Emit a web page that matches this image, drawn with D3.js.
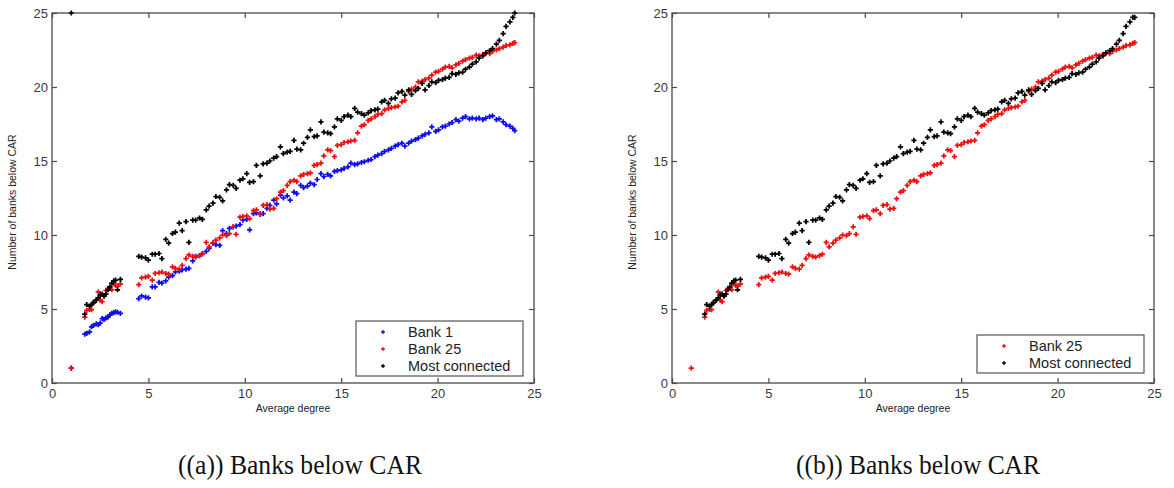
<!DOCTYPE html>
<html><head><meta charset="utf-8">
<script src="https://cdn.jsdelivr.net/npm/d3@7"></script>
<style>
html,body{margin:0;padding:0;background:#fff;}
svg{display:block;}
</style></head>
<body>
<svg id="chart" width="1174" height="488"></svg>
<script>
// ---------------- DATA ----------------
const degree = [
  1.0,
  1.7, 1.8, 1.95, 2.05, 2.15, 2.3, 2.4, 2.5, 2.6, 2.7, 2.8, 2.9, 3.0, 3.1, 3.2, 3.3, 3.4, 3.55,
  4.5, 4.65, 4.85, 5.0, 5.2, 5.35, 5.55, 5.7, 5.9, 6.05,
  6.25, 6.4, 6.6, 6.75, 6.95, 7.1, 7.3, 7.45, 7.65, 7.8,
  8.0, 8.15, 8.35, 8.5, 8.7, 8.85, 9.05, 9.2, 9.4, 9.55,
  9.75, 9.9, 10.1, 10.25, 10.45, 10.6, 10.8, 10.95, 11.15, 11.3,
  11.5, 11.65, 11.85, 12.0, 12.2, 12.35, 12.55, 12.7, 12.9, 13.05,
  13.25, 13.4, 13.6, 13.75, 13.95, 14.1, 14.3, 14.45, 14.65, 14.8,
  15.0, 15.15, 15.35, 15.5, 15.7, 15.85, 16.05, 16.2, 16.4, 16.55,
  16.75, 16.9, 17.1, 17.25, 17.45, 17.6, 17.8, 17.95, 18.15, 18.3,
  18.5, 18.65, 18.85, 19.0, 19.2, 19.35, 19.55, 19.7, 19.9, 20.05,
  20.25, 20.4, 20.6, 20.75, 20.95, 21.1, 21.3, 21.45, 21.65, 21.8,
  22.0, 22.15, 22.35, 22.5, 22.7, 22.85, 23.05, 23.2, 23.4, 23.55,
  23.75, 23.9, 24.0
];
const bank1 = [
  1.0,
  3.3, 3.35, 3.45, 3.8, 3.9, 4.0, 3.95, 4.05, 4.35, 4.3, 4.4, 4.45, 4.6, 4.7, 4.75, 4.8, 4.78, 4.7,
  5.7, 5.88, 5.8, 5.75, 6.5, 6.5, 6.8, 6.75, 6.9, 7.15,
  7.25, 7.5, 7.55, 7.65, 7.7, 7.75, 8.25, 8.55, 8.6, 8.75,
  8.9, 9.1, 9.45, 9.35, 9.3, 10.3, 10.1, 10.45, 10.55, 10.6,
  10.7, 11.0, 11.05, 10.35, 11.45, 11.5, 11.4, 11.45, 11.8, 12.0,
  12.35, 12.1, 12.7, 12.5, 12.65, 12.35, 12.9, 12.8, 13.35, 13.2,
  13.3, 13.5, 13.4, 13.75, 14.15, 13.95, 14.1, 14.0, 14.3, 14.35,
  14.4, 14.5, 14.6, 14.85, 14.75, 14.8, 14.9, 14.95, 15.05, 15.1,
  15.3, 15.4, 15.5, 15.65, 15.75, 15.85, 16.0, 16.1, 16.2, 16.0,
  16.2, 16.35, 16.45, 16.55, 16.7, 16.8, 16.9, 17.3, 17.0, 17.1,
  17.3, 17.35, 17.5, 17.6, 17.8, 17.7, 17.9, 18.0, 17.85, 17.9,
  17.85, 17.9, 17.8, 17.9, 18.0, 18.05, 17.8, 17.85, 17.65, 17.45,
  17.35, 17.2, 17.05
];
const bank25 = [
  1.0,
  4.45, 4.9, 4.98, 4.95, 5.4, 5.6, 6.15, 5.6, 5.5, 5.85, 6.25, 6.4, 6.45, 6.3, 6.7, 6.6, 6.55, 6.7,
  6.65, 7.1, 7.15, 7.2, 6.95, 7.4, 7.45, 7.5, 7.4, 7.35,
  7.85, 7.75, 7.7, 7.95, 8.4, 8.65, 8.55, 8.5, 8.6, 8.7,
  9.5, 9.2, 9.45, 9.65, 9.8, 10.0, 9.95, 10.1, 10.55, 10.05,
  11.2, 11.25, 11.3, 11.1, 11.65, 11.7, 11.45, 12.0, 12.05, 11.75,
  11.8, 12.45, 12.9, 13.0, 13.35, 13.6, 13.7, 13.6, 14.0, 14.1,
  14.15, 14.2, 14.7, 14.75, 14.85, 15.35, 15.75, 15.7, 15.3, 16.05,
  16.1, 16.25, 16.3, 16.35, 16.4, 16.9, 17.35, 17.45, 17.75, 17.85,
  18.0, 18.15, 18.2, 18.45, 18.55, 18.6, 18.65, 18.7, 19.0, 19.1,
  19.7, 19.85, 20.0, 20.35, 20.4, 20.5, 20.6, 20.8, 21.0, 21.05,
  21.2, 21.35, 21.4, 21.3, 21.5, 21.6, 21.75, 21.85, 21.95, 22.0,
  22.15, 22.1, 22.2, 22.3, 22.25, 22.4, 22.5, 22.6, 22.7, 22.8,
  22.85, 22.95, 23.0
];
const mostConnected = [
  25.0,
  4.65, 5.3, 5.2, 5.3, 5.45, 5.6, 5.75, 5.95, 6.0, 5.9, 6.0, 6.3, 6.5, 6.75, 6.9, 6.95, 6.3, 7.0,
  8.55, 8.5, 8.45, 8.3, 8.7, 8.7, 8.75, 8.4, 9.7, 9.45,
  10.1, 10.2, 10.8, 10.3, 10.9, 9.5, 11.0, 11.0, 11.15, 11.05,
  11.7, 11.95, 12.15, 12.6, 12.55, 12.3, 13.05, 13.4, 13.35, 13.15,
  13.7, 13.8, 14.15, 13.55, 13.6, 14.7, 14.0, 14.8, 14.85, 15.0,
  15.2, 15.3, 15.95, 15.5, 15.6, 15.65, 16.4, 15.8, 15.75, 16.2,
  16.6, 17.1, 16.65, 16.7, 17.65, 16.95, 16.9, 16.85, 17.3, 17.85,
  17.75, 18.0, 18.1, 18.0, 18.55, 18.3, 18.2, 18.1, 18.25, 18.4,
  18.45, 18.5, 19.0, 19.1, 18.9, 19.2, 19.25, 19.6, 19.7, 19.45,
  19.8, 19.5, 19.75, 19.9, 20.25, 19.8, 20.1, 20.35, 20.3, 20.45,
  20.5, 20.6, 20.65, 20.9, 20.85, 20.95, 21.0, 21.2, 21.35, 21.55,
  21.7, 21.95, 22.1, 22.3, 22.45, 22.6, 22.9, 23.15, 23.6, 24.1,
  24.4, 24.7, 25.0
];
// panel (b): last "most connected" value is slightly lower
const mostConnectedLastB = 24.7;
const xTicks = [0, 5, 10, 15, 20, 25];
const yTicks = [0, 5, 10, 15, 20, 25];
const seriesNames = ["Bank 1", "Bank 25", "Most connected"];
const captions = ["((a)) Banks below CAR", "((b)) Banks below CAR"];
const xTitle = "Average degree";
const yTitle = "Number of banks below CAR";

// ---------------- DRAWING ----------------
const colors = {"Bank 1": "#0b0bf0", "Bank 25": "#f00d0d", "Most connected": "#000000"};
const valuesBy = {"Bank 1": bank1, "Bank 25": bank25, "Most connected": mostConnected};

const svg = d3.select("#chart");
const W = 482, H = 370;

function panel(ox, oy, names, isB, legendBox, caption, capX) {
  const g = svg.append("g").attr("transform", `translate(${ox},${oy})`);
  const x = d3.scaleLinear().domain([0, 25]).range([0, W]);
  const y = d3.scaleLinear().domain([0, 25]).range([H, 0]);

  const fontAxis = "'Liberation Sans', Arial, sans-serif";
  const axisCol = "#4a4a4a";

  const ax = g.append("g").attr("transform", `translate(0,${H})`)
    .call(d3.axisBottom(x).tickValues(xTicks).tickSize(-5).tickPadding(6).tickFormat(d3.format("d")));
  const axTop = g.append("g")
    .call(d3.axisTop(x).tickValues(xTicks).tickSize(-5).tickFormat(""));
  const ay = g.append("g")
    .call(d3.axisLeft(y).tickValues(yTicks).tickSize(-5).tickPadding(4).tickFormat(d3.format("d")));
  const ayR = g.append("g").attr("transform", `translate(${W},0)`)
    .call(d3.axisRight(y).tickValues(yTicks).tickSize(-5).tickFormat(""));
  [ax, axTop, ay, ayR].forEach(a => {
    a.select(".domain").remove();
    a.selectAll("line").attr("stroke", axisCol).attr("stroke-width", 1.2);
    a.selectAll("text").attr("font-family", fontAxis).attr("font-size", 13).attr("fill", "#3a3a3a");
  });
  g.append("rect").attr("x", 0).attr("y", 0).attr("width", W).attr("height", H)
    .attr("fill", "none").attr("stroke", axisCol).attr("stroke-width", 1.3);

  const clip = "clip" + ox;
  g.append("clipPath").attr("id", clip).append("rect")
    .attr("x", -4).attr("y", -4).attr("width", W + 8).attr("height", H + 8);
  const sym = d3.symbol().type(d3.symbolCross).size(15);
  names.forEach(n => {
    let pts = degree.map((d, i) => ({x: d, y: valuesBy[n][i], i}));
    if (isB && n === "Most connected") {
      pts = pts.filter(p => p.i !== 0);
      pts[pts.length - 1] = {...pts[pts.length - 1], y: mostConnectedLastB};
    }
    g.append("g").attr("clip-path", `url(#${clip})`).selectAll("path").data(pts).join("path")
      .attr("d", sym)
      .attr("transform", p => `translate(${x(p.x)},${y(p.y)})`)
      .attr("fill", colors[n]);
  });

  // axis titles
  g.append("text").attr("x", W / 2).attr("y", H + 29).attr("text-anchor", "middle")
    .attr("font-family", fontAxis).attr("font-size", 10.5).attr("fill", "#222").text(xTitle);
  g.append("text").attr("transform", `translate(${-36},${H / 2 + 4}) rotate(-90)`)
    .attr("text-anchor", "middle")
    .attr("font-family", fontAxis).attr("font-size", 10.5).attr("fill", "#222").text(yTitle);

  // legend
  const lg = g.append("g").attr("transform", `translate(${legendBox.x - ox},${legendBox.y - oy})`);
  lg.append("rect").attr("width", legendBox.w).attr("height", legendBox.h)
    .attr("fill", "#fff").attr("stroke", "#555").attr("stroke-width", 1.2);
  names.forEach((n, k) => {
    const cy = legendBox.first + k * 17;
    lg.append("path").attr("d", d3.symbol().type(d3.symbolCross).size(8))
      .attr("transform", `translate(27,${cy})`).attr("fill", colors[n]);
    lg.append("text").attr("x", 52).attr("y", cy + 5)
      .attr("font-family", fontAxis).attr("font-size", 14.5).attr("fill", "#222").text(n);
  });

  svg.append("text").attr("x", capX).attr("y", 474).attr("text-anchor", "middle")
    .attr("font-family", "'Liberation Serif', 'DejaVu Serif', serif").attr("font-size", 27)
    .attr("textLength", 244).attr("lengthAdjust", "spacingAndGlyphs")
    .attr("fill", "#111").text(caption);
}

panel(52, 13, seriesNames, false,
  {x: 356, y: 321, w: 167, h: 55, first: 11}, captions[0], 300);
panel(672, 13, seriesNames.slice(1), true,
  {x: 977, y: 335, w: 167, h: 38, first: 11}, captions[1], 918);
</script>
</body></html>
